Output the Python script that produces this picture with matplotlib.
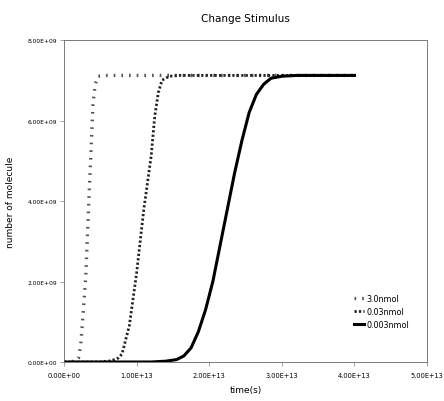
import numpy as np
import matplotlib
matplotlib.use("Agg")
import matplotlib.pyplot as plt
from matplotlib.ticker import FuncFormatter

# time in units of 1e12 s, molecule counts in units of 1e9
t_30 = [0, 1.5, 2.0, 2.3, 2.6, 3.0, 3.5, 4.0, 4.3, 4.7, 6, 40]
y_30 = [0, 0.02, 0.1, 0.4, 1.1, 2.1, 4.3, 6.4, 6.9, 7.1, 7.12, 7.12]

t_003 = [0, 5, 6.5, 7.5, 8.0, 9.0, 10.0, 11.0, 12.0, 12.5, 13.0, 13.5, 14.5, 16, 40]
y_003 = [0, 0, 0.03, 0.1, 0.2, 0.9, 2.2, 3.8, 5.1, 6.1, 6.7, 7.0, 7.1, 7.12, 7.12]

t_0003 = [0, 12, 14, 15.5, 16.5, 17.5, 18.5, 19.5, 20.5, 21.5, 22.5, 23.5,
          24.5, 25.5, 26.5, 27.5, 28.5, 30, 32, 40]
y_0003 = [0, 0, 0.02, 0.06, 0.15, 0.35, 0.75, 1.3, 2.0, 2.9, 3.8, 4.7,
          5.5, 6.2, 6.65, 6.9, 7.05, 7.1, 7.12, 7.12]

labels = ["3.0nmol", "0.03nmol", "0.003nmol"]

fig = plt.figure(figsize=(4.44, 4.02), dpi=100)
ax = fig.add_axes([0.144, 0.097, 0.818, 0.801])

ax.plot(np.array(t_30) * 1e12, np.array(y_30) * 1e9, color="#555555",
        lw=2.4, linestyle=(0, (0.5, 1.8)), label=labels[0])
ax.plot(np.array(t_003) * 1e12, np.array(y_003) * 1e9, color="#222222",
        lw=2.0, linestyle=(0, (0.8, 0.8)), label=labels[1])
ax.plot(np.array(t_0003) * 1e12, np.array(y_0003) * 1e9, color="black",
        lw=2.2, label=labels[2])

ax.set_xlim(0, 5e13)
ax.set_ylim(0, 8e9)
ax.set_xticks(np.arange(0, 5.01e13, 1e13))
ax.set_yticks(np.arange(0, 8.01e9, 2e9))
fmt = FuncFormatter(lambda v, p: "%.2E" % v)
ax.xaxis.set_major_formatter(fmt)
ax.yaxis.set_major_formatter(fmt)
ax.tick_params(axis="x", labelsize=4.8, length=3, width=0.5, color="#777777", pad=4)
ax.tick_params(axis="y", labelsize=4.3, length=3, width=0.5, color="#777777", pad=2)

for s in ax.spines.values():
    s.set_linewidth(0.6)
    s.set_linestyle((0, (1, 1)))
    s.set_color("#666666")

ax.set_title("Change Stimulus", fontsize=7.5, pad=14)
ax.set_xlabel("time(s)", fontsize=6.5, labelpad=5)
ax.set_ylabel("number of molecule", fontsize=6.5, labelpad=9)

ax.legend(loc="upper left", bbox_to_anchor=(0.78, 0.235), frameon=False,
          fontsize=5.8, handlelength=1.2, handletextpad=0.3, labelspacing=0.5)

fig.savefig("out.png", dpi=100)
